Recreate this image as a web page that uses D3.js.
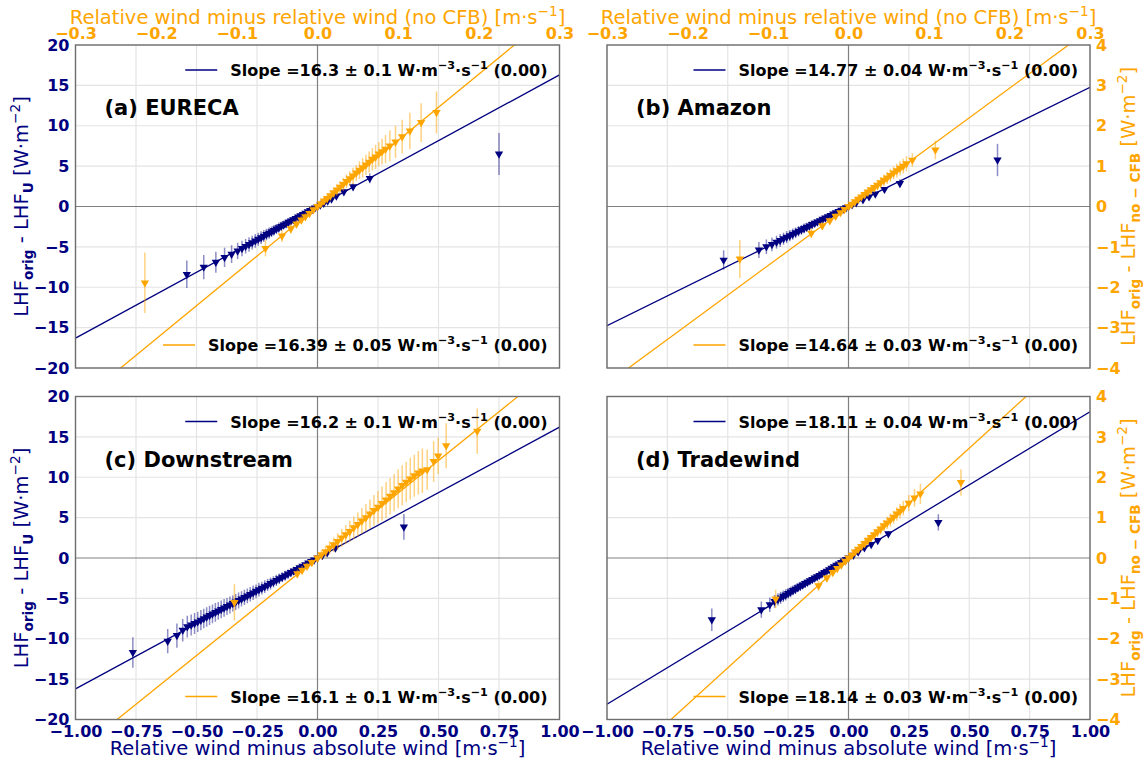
<!DOCTYPE html>
<html><head><meta charset="utf-8">
<script src="https://cdn.jsdelivr.net/npm/d3@7"></script>
<style>body{margin:0;background:#fff}svg{display:block;font-family:"DejaVu Sans",sans-serif}</style>
</head><body><svg id="c" width="1144" height="759"></svg>
<script>
// ---------------- data ----------------
const panelTitles = ["(a) EURECA", "(b) Amazon", "(c) Downstream", "(d) Tradewind"];
const slopesNavy = [16.3, 14.77, 16.2, 18.11];
const slopesOrange = [16.39, 14.64, 16.1, 18.14];
const slopeLabelsNavy = ["16.3 ± 0.1", "14.77 ± 0.04", "16.2 ± 0.1", "18.11 ± 0.04"];
const slopeLabelsOrange = ["16.39 ± 0.05", "14.64 ± 0.03", "16.1 ± 0.1", "18.14 ± 0.03"];
const navyXTicks = [-1, -0.75, -0.5, -0.25, 0, 0.25, 0.5, 0.75, 1];
const navyYTicks = [-20, -15, -10, -5, 0, 5, 10, 15, 20];
const orangeXTicks = [-0.3, -0.2, -0.1, 0, 0.1, 0.2, 0.3];
const orangeYTicks = [-4, -3, -2, -1, 0, 1, 2, 3, 4];

// [x, y, error] : navy = relative minus absolute wind vs LHF_orig - LHF_U
const navyA = [[-0.54,-8.4,1.7],[-0.47,-7.5,1.5],[-0.42,-6.9,1.3],[-0.384,-6.3,1.2],[-0.355,-5.9,1.1],[-0.33,-5.5,1.0],
[-0.312,-5.2,0.95],[-0.297,-4.93,0.9],[-0.283,-4.7,0.9],[-0.27,-4.47,0.85],[-0.257,-4.25,0.85],[-0.245,-4.05,0.8],[-0.233,-3.85,0.8],[-0.222,-3.66,0.75],[-0.211,-3.47,0.7],[-0.2,-3.29,0.7],[-0.19,-3.12,0.65],[-0.18,-2.95,0.65],[-0.17,-2.78,0.6],[-0.16,-2.61,0.6],[-0.15,-2.45,0.55],[-0.14,-2.28,0.5],[-0.13,-2.12,0.5],[-0.12,-1.95,0.45],[-0.11,-1.79,0.45],[-0.1,-1.63,0.4],[-0.09,-1.46,0.4],[-0.08,-1.3,0.35],[-0.07,-1.14,0.3],[-0.06,-0.97,0.3],[-0.05,-0.81,0.25],[-0.04,-0.65,0.25],[-0.03,-0.49,0.2],[-0.02,-0.32,0.2],[-0.01,-0.16,0.15],[0.0,0.0,0.15],[0.012,0.2,0.15],[0.026,0.42,0.2],[0.042,0.68,0.2],[0.058,0.95,0.25],[0.078,1.32,0.3],[0.109,1.84,0.35],[0.147,2.45,0.4],[0.216,3.49,0.6],[0.75,6.5,2.6]];
const navyB = [[-0.517,-6.63,1.2],[-0.371,-5.39,1.0],[-0.34,-4.98,0.9],[-0.317,-4.69,0.85],[-0.298,-4.42,0.8],[-0.283,-4.2,0.8],[-0.269,-3.99,0.75],[-0.256,-3.79,0.75],[-0.243,-3.6,0.7],[-0.231,-3.42,0.7],[-0.219,-3.24,0.65],[-0.207,-3.06,0.65],[-0.195,-2.88,0.6],[-0.184,-2.72,0.6],[-0.173,-2.56,0.55],[-0.162,-2.4,0.55],[-0.151,-2.23,0.5],[-0.14,-2.07,0.5],[-0.129,-1.91,0.45],[-0.118,-1.74,0.45],[-0.107,-1.58,0.4],[-0.096,-1.42,0.4],[-0.085,-1.26,0.35],[-0.074,-1.09,0.35],[-0.063,-0.93,0.3],[-0.052,-0.77,0.25],[-0.041,-0.61,0.25],[-0.03,-0.44,0.2],[-0.02,-0.3,0.15],[-0.01,-0.15,0.15],[0.0,0.0,0.1],[0.015,0.22,0.1],[0.032,0.47,0.15],[0.06,0.85,0.2],[0.085,1.2,0.25],[0.111,1.55,0.3],[0.149,2.13,0.3],[0.213,2.87,0.5],[0.617,5.76,2.0]];
const navyC = [[-0.763,-11.7,1.9],[-0.619,-10.3,1.5],[-0.581,-9.6,1.5],[-0.557,-8.94,1.4],[-0.538,-8.5,1.35],
[-0.522,-8.3,1.3],[-0.508,-8.1,1.3],[-0.495,-7.9,1.25],[-0.482,-7.7,1.25],[-0.47,-7.5,1.2],[-0.458,-7.3,1.2],[-0.446,-7.1,1.2],[-0.434,-6.92,1.15],[-0.422,-6.73,1.15],[-0.41,-6.55,1.1],[-0.398,-6.37,1.1],[-0.386,-6.18,1.1],[-0.374,-6.0,1.05],[-0.362,-5.82,1.05],[-0.35,-5.63,1.0],[-0.338,-5.45,1.0],[-0.326,-5.26,1.0],[-0.314,-5.07,0.95],[-0.302,-4.88,0.95],[-0.29,-4.69,0.9],[-0.278,-4.5,0.9],[-0.266,-4.31,0.9],[-0.254,-4.12,0.85],[-0.242,-3.93,0.85],[-0.23,-3.73,0.8],[-0.218,-3.54,0.8],[-0.206,-3.35,0.75],[-0.194,-3.15,0.75],[-0.182,-2.96,0.7],[-0.17,-2.76,0.7],[-0.158,-2.57,0.65],[-0.146,-2.37,0.6],[-0.134,-2.18,0.6],[-0.122,-1.98,0.55],[-0.11,-1.79,0.5],[-0.098,-1.59,0.5],[-0.086,-1.4,0.45],[-0.074,-1.2,0.4],[-0.062,-1.0,0.35],[-0.05,-0.81,0.3],[-0.038,-0.62,0.3],[-0.026,-0.42,0.25],[-0.014,-0.23,0.2],[0.0,0.0,0.15],[0.02,0.32,0.15],[0.04,0.65,0.2],[0.074,1.26,0.3],[0.357,3.86,1.6]];
const navyD = [[-0.566,-7.64,1.4],[-0.361,-6.4,1.0],[-0.326,-5.78,0.9],[-0.306,-5.37,0.8],
[-0.292,-5.12,0.75],[-0.281,-4.93,0.75],[-0.27,-4.74,0.7],[-0.26,-4.56,0.7],[-0.25,-4.38,0.65],[-0.24,-4.2,0.65],[-0.23,-4.02,0.6],[-0.22,-3.85,0.6],[-0.21,-3.67,0.55],[-0.2,-3.5,0.55],[-0.19,-3.33,0.5],[-0.18,-3.16,0.5],[-0.17,-2.99,0.45],[-0.16,-2.82,0.45],[-0.15,-2.65,0.4],[-0.14,-2.48,0.4],[-0.13,-2.31,0.35],[-0.12,-2.14,0.35],[-0.11,-1.97,0.3],[-0.1,-1.79,0.3],[-0.09,-1.62,0.3],[-0.08,-1.44,0.25],[-0.07,-1.26,0.25],[-0.06,-1.08,0.2],[-0.05,-0.9,0.2],[-0.04,-0.72,0.2],[-0.03,-0.54,0.15],[-0.02,-0.36,0.15],[-0.01,-0.18,0.1],[0.0,0.0,0.1],[0.02,0.36,0.1],[0.04,0.74,0.15],[0.066,1.27,0.2],[0.094,1.69,0.25],[0.121,2.18,0.3],[0.165,3.0,0.35],[0.372,4.41,1.0]];

// [x, y, error] : orange = relative minus relative (no CFB) vs LHF_orig - LHF_no-CFB
const orangeA = [[-0.214,-1.89,0.75],[-0.0645,-1.035,0.2],[-0.044,-0.73,0.15],[-0.033,-0.55,0.12],[-0.026,-0.43,0.1],[-0.02,-0.33,0.1],[-0.015,-0.25,0.08],[-0.01,-0.17,0.08],[-0.005,-0.08,0.08],[0.0,0.0,0.08],[0.004,0.07,0.08],[0.008,0.14,0.1],[0.012,0.2,0.1],[0.016,0.27,0.12],[0.02,0.34,0.12],[0.024,0.41,0.14],[0.028,0.48,0.15],[0.032,0.55,0.16],[0.036,0.62,0.17],[0.04,0.69,0.18],[0.044,0.76,0.2],[0.048,0.83,0.2],[0.052,0.9,0.22],[0.056,0.96,0.24],[0.06,1.03,0.25],[0.064,1.1,0.26],[0.068,1.17,0.28],[0.072,1.23,0.3],[0.076,1.3,0.3],[0.08,1.36,0.32],[0.0843,1.42,0.35],[0.0897,1.5,0.38],[0.0967,1.6,0.4],[0.105,1.73,0.42],[0.1145,1.87,0.45],[0.1285,2.08,0.48],[0.1475,2.33,0.52]];
const orangeB = [[-0.135,-1.3,0.47],[-0.0462,-0.66,0.12],[-0.0325,-0.475,0.1],[-0.0232,-0.35,0.08],[-0.016,-0.24,0.07],[-0.01,-0.15,0.06],[-0.005,-0.07,0.06],[0.0,0.0,0.06],[0.004,0.06,0.07],[0.008,0.12,0.08],[0.012,0.18,0.09],[0.016,0.24,0.1],[0.02,0.3,0.1],[0.024,0.36,0.11],[0.028,0.42,0.12],[0.032,0.47,0.12],[0.036,0.53,0.13],[0.04,0.59,0.14],[0.044,0.65,0.14],[0.048,0.71,0.15],[0.052,0.77,0.16],[0.056,0.83,0.16],[0.06,0.89,0.17],[0.064,0.95,0.18],[0.068,1.0,0.18],[0.072,1.06,0.19],[0.0793,1.15,0.17],[0.1079,1.4,0.23]];
const orangeC = [[-0.103,-1.1,0.45],[-0.025,-0.39,0.1],[-0.019,-0.3,0.1],[-0.013,-0.2,0.08],[-0.007,-0.11,0.08],[0.0,0.0,0.1],
[0.005,0.08,0.12],[0.01,0.16,0.14],[0.015,0.25,0.16],[0.02,0.33,0.18],[0.025,0.41,0.2],[0.03,0.5,0.22],[0.035,0.58,0.24],[0.04,0.66,0.26],[0.045,0.75,0.28],[0.05,0.83,0.3],[0.055,0.92,0.32],[0.06,1.0,0.34],[0.065,1.09,0.36],[0.07,1.18,0.38],[0.075,1.26,0.4],[0.08,1.35,0.42],[0.085,1.44,0.44],[0.09,1.53,0.45],[0.095,1.62,0.46],[0.1,1.71,0.48],[0.105,1.8,0.5],[0.11,1.88,0.5],[0.115,1.96,0.52],[0.12,2.04,0.52],[0.125,2.11,0.54],[0.13,2.16,0.55],
[0.136,2.19,0.5],[0.144,2.39,0.5],[0.1496,2.53,0.45],[0.1595,2.78,0.56],[0.198,3.14,0.56]];
const orangeD = [[-0.0905,-1.016,0.23],[-0.0372,-0.686,0.12],[-0.0269,-0.495,0.1],[-0.0195,-0.356,0.08],[-0.014,-0.26,0.07],[-0.009,-0.17,0.06],[-0.004,-0.08,0.06],[0.0,0.0,0.06],[0.004,0.07,0.07],[0.008,0.15,0.08],[0.012,0.22,0.09],[0.016,0.29,0.1],[0.02,0.36,0.1],[0.024,0.44,0.11],[0.028,0.51,0.12],[0.032,0.58,0.12],[0.036,0.65,0.13],[0.04,0.72,0.14],[0.044,0.8,0.14],[0.048,0.87,0.15],[0.052,0.94,0.16],[0.056,1.01,0.16],[0.06,1.09,0.17],[0.064,1.16,0.18],[0.068,1.23,0.18],[0.0748,1.36,0.2],[0.082,1.49,0.22],[0.0893,1.59,0.25],[0.1397,1.87,0.33]];

const navySeries = [navyA, navyB, navyC, navyD];
const orangeSeries = [orangeA, orangeB, orangeC, orangeD];

// ---------------- drawing ----------------
const NAVY = "#000080", ORANGE = "#FFA500";
const LABEL_FS = 19.5;
const svg = d3.select("#c");
svg.append("rect").attr("width",1144).attr("height",759).attr("fill","#fff");
const layout = [
  {L:75.5, R:559.5, T:45, B:368, left:true, right:false, top:true, bottom:false},
  {L:607, R:1090, T:45, B:368, left:false, right:true, top:true, bottom:false},
  {L:75.5, R:559.5, T:396.5, B:719.5, left:true, right:false, top:false, bottom:true},
  {L:607, R:1090, T:396.5, B:719.5, left:false, right:true, top:false, bottom:true}
];
const minus = s => s.replace(/-/g, "\u2212");
const fmtX = d => minus(d3.format(".2f")(d));
const fmtXO = d => minus(d3.format(".1f")(d));
const fmtY = d => minus(String(d));

function rich(sel, parts, fs) {
  let shift = 0;
  parts.forEach(p => {
    const ts = sel.append("tspan").text(p.t);
    const target = p.sup ? -0.42*fs : (p.sub ? 0.25*fs : 0);
    if (target - shift !== 0) ts.attr("dy", target - shift);
    shift = target;
    if (p.sup || p.sub) ts.attr("font-size", (fs*0.7).toFixed(2));
    if (p.bold) ts.attr("font-weight", "bold");
  });
}

const tri = d3.symbol().type(d3.symbolTriangle).size(30)();

layout.forEach((P, i) => {
  const g = svg.append("g");
  const xN = d3.scaleLinear([-1, 1], [P.L, P.R]);
  const yN = d3.scaleLinear([-20, 20], [P.B, P.T]);
  const xO = d3.scaleLinear([-0.3, 0.3], [P.L, P.R]);
  const yO = d3.scaleLinear([-4, 4], [P.B, P.T]);
  const clipId = "clip" + i;
  svg.append("clipPath").attr("id", clipId).append("rect")
    .attr("x", P.L).attr("y", P.T).attr("width", P.R - P.L).attr("height", P.B - P.T);

  // grid
  const grid = g.append("g");
  navyXTicks.forEach(t => { if (t !== 0) grid.append("line").attr("x1", xN(t)).attr("x2", xN(t)).attr("y1", P.T).attr("y2", P.B).attr("stroke", "#e4e4e4").attr("stroke-width", 1.2); });
  navyYTicks.forEach(t => { if (t !== 0) grid.append("line").attr("y1", yN(t)).attr("y2", yN(t)).attr("x1", P.L).attr("x2", P.R).attr("stroke", "#e4e4e4").attr("stroke-width", 1.2); });
  grid.append("line").attr("x1", xN(0)).attr("x2", xN(0)).attr("y1", P.T).attr("y2", P.B).attr("stroke", "#808080").attr("stroke-width", 1.2);
  grid.append("line").attr("y1", yN(0)).attr("y2", yN(0)).attr("x1", P.L).attr("x2", P.R).attr("stroke", "#808080").attr("stroke-width", 1.2);

  const plot = g.append("g").attr("clip-path", `url(#${clipId})`);
  // navy regression line
  const sN = slopesNavy[i];
  plot.append("line").attr("x1", xN(-1)).attr("y1", yN(-sN)).attr("x2", xN(1)).attr("y2", yN(sN))
    .attr("stroke", NAVY).attr("stroke-width", 1.3);
  const nd = navySeries[i];
  plot.append("g").selectAll("line").data(nd).join("line")
    .attr("x1", d => xN(d[0])).attr("x2", d => xN(d[0]))
    .attr("y1", d => yN(d[1] - d[2])).attr("y2", d => yN(d[1] + d[2]))
    .attr("stroke", NAVY).attr("stroke-opacity", 0.45).attr("stroke-width", 1.5);
  plot.append("g").selectAll("path").data(nd).join("path")
    .attr("d", tri).attr("transform", d => `translate(${xN(d[0])},${yN(d[1])}) rotate(180)`)
    .attr("fill", NAVY);
  // orange regression line
  const sO = slopesOrange[i];
  plot.append("line").attr("x1", xO(-0.3)).attr("y1", yO(-0.3*sO)).attr("x2", xO(0.3)).attr("y2", yO(0.3*sO))
    .attr("stroke", ORANGE).attr("stroke-width", 1.3);
  const od = orangeSeries[i];
  plot.append("g").selectAll("line").data(od).join("line")
    .attr("x1", d => xO(d[0])).attr("x2", d => xO(d[0]))
    .attr("y1", d => yO(d[1] - d[2])).attr("y2", d => yO(d[1] + d[2]))
    .attr("stroke", ORANGE).attr("stroke-opacity", 0.5).attr("stroke-width", 1.5);
  plot.append("g").selectAll("path").data(od).join("path")
    .attr("d", tri).attr("transform", d => `translate(${xO(d[0])},${yO(d[1])}) rotate(180)`)
    .attr("fill", ORANGE);

  // frame
  g.append("rect").attr("x", P.L).attr("y", P.T).attr("width", P.R - P.L).attr("height", P.B - P.T)
    .attr("fill", "none").attr("stroke", "#6e6e6e").attr("stroke-width", 1.4);

  // axes
  const styleAxis = (ax, col) => {
    ax.select(".domain").remove();
    ax.selectAll("text").attr("fill", col).attr("font-size", 16).attr("font-weight", "bold")
      .attr("font-family", '"DejaVu Sans",sans-serif');
  };
  if (P.left) {
    const ax = g.append("g").attr("transform", `translate(${P.L},0)`)
      .call(d3.axisLeft(yN).tickValues(navyYTicks).tickFormat(fmtY).tickSize(0).tickPadding(6));
    styleAxis(ax, NAVY);
    g.append("text").attr("transform", `translate(28,${(P.T+P.B)/2}) rotate(-90)`).attr("text-anchor", "middle")
      .attr("fill", NAVY).attr("font-size", LABEL_FS)
      .call(s => rich(s, [{t:"LHF"},{t:"orig",sub:true,bold:true},{t:" - LHF"},{t:"U",sub:true,bold:true},{t:" [W·m"},{t:"\u22122",sup:true},{t:"]"}], LABEL_FS));
  }
  if (P.right) {
    const ax = g.append("g").attr("transform", `translate(${P.R},0)`)
      .call(d3.axisRight(yO).tickValues(orangeYTicks).tickFormat(fmtY).tickSize(0).tickPadding(6));
    styleAxis(ax, ORANGE);
    g.append("text").attr("transform", `translate(1135,${(P.T+P.B)/2}) rotate(-90)`).attr("text-anchor", "middle")
      .attr("fill", ORANGE).attr("font-size", LABEL_FS)
      .call(s => rich(s, [{t:"LHF"},{t:"orig",sub:true,bold:true},{t:" - LHF"},{t:"no \u2212 CFB",sub:true,bold:true},{t:" [W·m"},{t:"\u22122",sup:true},{t:"]"}], LABEL_FS));
  }
  if (P.top) {
    const ax = g.append("g").attr("transform", `translate(0,${P.T})`)
      .call(d3.axisTop(xO).tickValues(orangeXTicks).tickFormat(fmtXO).tickSize(0).tickPadding(6));
    styleAxis(ax, ORANGE);
    g.append("text").attr("x", (P.L+P.R)/2).attr("y", 24).attr("text-anchor", "middle")
      .attr("fill", ORANGE).attr("font-size", LABEL_FS)
      .call(s => rich(s, [{t:"Relative wind minus relative wind (no CFB) [m·s"},{t:"\u22121",sup:true},{t:"]"}], LABEL_FS));
  }
  if (P.bottom) {
    const ax = g.append("g").attr("transform", `translate(0,${P.B})`)
      .call(d3.axisBottom(xN).tickValues(navyXTicks).tickFormat(fmtX).tickSize(0).tickPadding(6));
    styleAxis(ax, NAVY);
    g.append("text").attr("x", (P.L+P.R)/2).attr("y", 755).attr("text-anchor", "middle")
      .attr("fill", NAVY).attr("font-size", LABEL_FS)
      .call(s => rich(s, [{t:"Relative wind minus absolute wind [m·s"},{t:"\u22121",sup:true},{t:"]"}], LABEL_FS));
  }

  // title
  g.append("text").attr("x", P.L + 29).attr("y", P.T + 70).attr("font-size", 21).attr("font-weight", "bold")
    .attr("fill", "#000").text(panelTitles[i]);

  // legends
  const legend = (y, label, col) => {
    const t = g.append("text").attr("x", P.R - 12).attr("y", y + 6).attr("text-anchor", "end")
      .attr("font-size", 16).attr("font-weight", "bold").attr("fill", "#000");
    rich(t, [{t:"Slope =" + label + " W·m"},{t:"\u22123",sup:true},{t:"·s"},{t:"\u22121",sup:true},{t:" (0.00)"}], 16);
    const bb = t.node().getBBox();
    g.append("line").attr("x1", bb.x - 45).attr("x2", bb.x - 13).attr("y1", y).attr("y2", y)
      .attr("stroke", col).attr("stroke-width", 1.3);
  };
  legend(P.T + 25, slopeLabelsNavy[i], NAVY);
  legend(P.B - 23, slopeLabelsOrange[i], ORANGE);
});
</script></body></html>
